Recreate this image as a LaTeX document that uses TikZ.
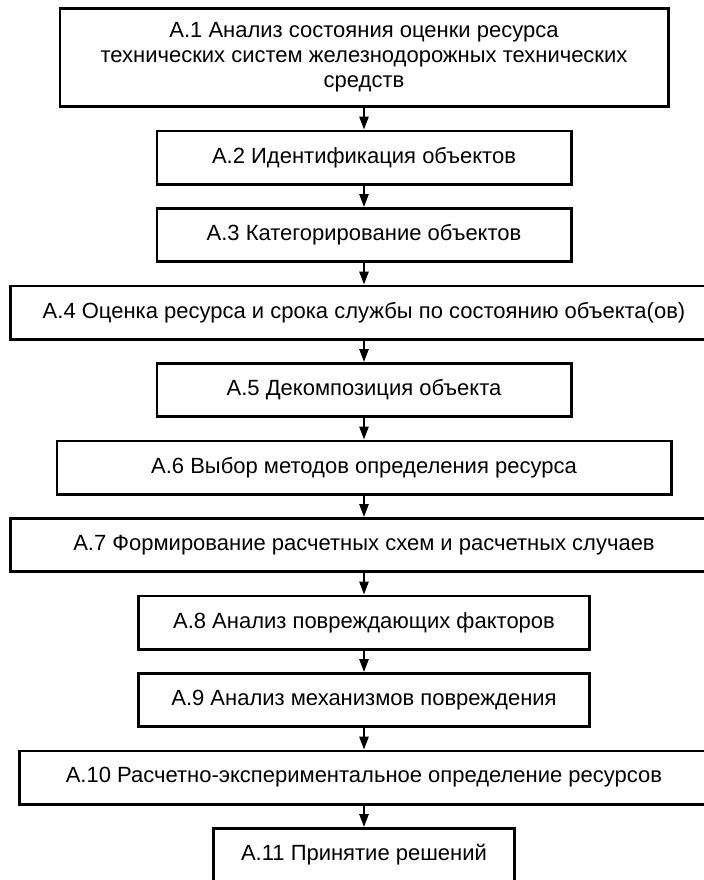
\documentclass[tikz,border=0pt]{standalone}
\usepackage{fontspec}
\setmainfont{Liberation Sans}
\usetikzlibrary{arrows.meta,positioning}

\begin{document}
\begin{tikzpicture}[>={Triangle[length=6.5pt,width=4.6pt]},
	stage/.style={draw,line width=1.4pt,align=center,inner sep=2pt,minimum height=26.6pt,font=\fontsize{11}{12.5}\selectfont}]
	\useasboundingbox (0,0) rectangle (352pt,-440pt);
	\clip (0,0) rectangle (352pt,-440pt);
	\node (stage1) [stage,minimum width=304.1pt,minimum height=49.1pt] at (182pt,-28.75pt) {А.1 Анализ состояния оценки ресурса\\технических систем железнодорожных технических\\средств};
	\node (stage2) [stage,minimum width=207.1pt,below=10.75pt of stage1] {А.2 Идентификация объектов};
    \node (stage3) [stage,minimum width=207.1pt,below=10.75pt of stage2] {А.3 Категорирование объектов};
    \node (stage4) [stage,minimum width=353.6pt,below=10.75pt of stage3] {А.4 Оценка ресурса и срока службы по состоянию объекта(ов)};
    \node (stage5) [stage,minimum width=207.1pt,below=10.75pt of stage4] {А.5 Декомпозиция объекта};
    \node (stage6) [stage,minimum width=307.1pt,below=10.75pt of stage5] {А.6 Выбор методов определения ресурса};
    \node (stage7) [stage,minimum width=353.6pt,below=10.75pt of stage6] {А.7 Формирование расчетных схем и расчетных случаев};
    \node (stage8) [stage,minimum width=225.6pt,below=10.75pt of stage7] {А.8 Анализ повреждающих факторов};
    \node (stage9) [stage,minimum width=225.6pt,below=10.75pt of stage8] {А.9 Анализ механизмов повреждения};
    \node (stage10) [stage,minimum width=344.6pt,below=10.75pt of stage9] {А.10 Расчетно-экспериментальное определение ресурсов};
    \node (stage11) [stage,minimum width=150.6pt,below=10.75pt of stage10] {А.11 Принятие решений};
    \draw [->,line width=1pt] (stage1) -- (stage2);
    \draw [->,line width=1pt] (stage2) -- (stage3);
    \draw [->,line width=1pt] (stage3) -- (stage4);
    \draw [->,line width=1pt] (stage4) -- (stage5);
    \draw [->,line width=1pt] (stage5) -- (stage6);
    \draw [->,line width=1pt] (stage6) -- (stage7);
    \draw [->,line width=1pt] (stage7) -- (stage8);
    \draw [->,line width=1pt] (stage8) -- (stage9);
    \draw [->,line width=1pt] (stage9) -- (stage10);
    \draw [->,line width=1pt] (stage10) -- (stage11);
\end{tikzpicture}
\end{document}
